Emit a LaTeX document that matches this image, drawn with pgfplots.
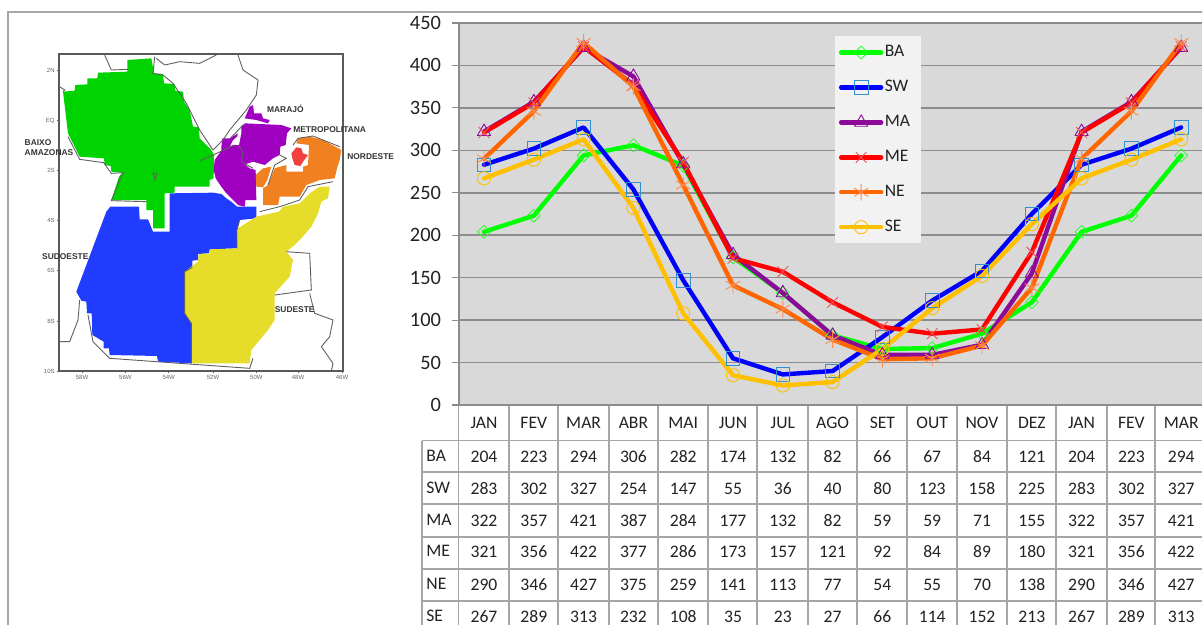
\documentclass[border=0pt]{standalone}
\usepackage{fontspec}
\setmainfont{Carlito}
\newfontfamily\mapfont{Liberation Sans}
\usepackage{pgfplots}
\usepackage{pgfplotstable}
\pgfplotsset{compat=1.18}

\definecolor{gridc}{HTML}{8C8C8C}
\definecolor{cellc}{HTML}{A6A6A6}
\definecolor{plotbg}{HTML}{D9D9D9}
\definecolor{txtc}{HTML}{222222}
\definecolor{cBA}{HTML}{00FF00}
\definecolor{cSW}{HTML}{0000FF}
\definecolor{mSW}{HTML}{2F8FD0}
\definecolor{cMA}{HTML}{8B0A9A}
\definecolor{cME}{HTML}{FF0000}
\definecolor{mME}{HTML}{F0555A}
\definecolor{cNE}{HTML}{FF6600}
\definecolor{mNE}{HTML}{FF8A4A}
\definecolor{cSE}{HTML}{FFC000}
\definecolor{mapgreen}{HTML}{00D400}
\definecolor{mapblue}{HTML}{1F3CFF}
\definecolor{mappurple}{HTML}{A000C0}
\definecolor{maporange}{HTML}{F08020}
\definecolor{mapyellow}{HTML}{E6DC2A}
\definecolor{mapred}{HTML}{F04040}
\definecolor{mapline}{HTML}{606060}

\newcommand{\cellfont}{\fontsize{8.8}{10}\selectfont}

\pgfplotstableread{
idx BA SW MA ME NE SE
0 204 283 322 321 290 267
1 223 302 357 356 346 289
2 294 327 421 422 427 313
3 306 254 387 377 375 232
4 282 147 284 286 259 108
5 174 55 177 173 141 35
6 132 36 132 157 113 23
7 82 40 82 121 77 27
8 66 80 59 92 54 66
9 67 123 59 84 55 114
10 84 158 71 89 70 152
11 121 225 155 180 138 213
12 204 283 322 321 290 267
13 223 302 357 356 346 289
14 294 327 421 422 427 313
}\monthly

% one row of the table under the chart, in page pixels
\newcommand{\cellrow}[3]{%
  \addplot[draw=none, mark=none, forget plot, nodes near coords, point meta=explicit symbolic,
    every node near coord/.append style={anchor=center, inner sep=0pt, text=txtc, font=\cellfont}]
    table[x expr=484+49.8*\thisrow{idx}, y expr=#2, meta=#1] {\monthly};
  \node[anchor=west, inner sep=0pt, text=txtc, font=\cellfont] at (axis cs:426,#3) {#1};
}
\newcommand{\region}[2]{\addplot[fill=#1, draw=none, forget plot] coordinates {#2} -- cycle;}
\newcommand{\border}[1]{\addplot[draw=mapline, line width=0.45pt, mark=none, forget plot] coordinates {#1};}
\newcommand{\maplabel}[2]{\node[font=\mapfont\bfseries\fontsize{4.2}{5.2}\selectfont, text=black!80, align=left, inner sep=0pt] at (axis cs:#1) {#2};}

\begin{document}
\begin{tikzpicture}
\path[use as bounding box] (0,0) rectangle (601pt,312.5pt);

% page frame and table grid, in pixels of the page
\begin{axis}[
  at={(0,0)}, anchor=south west, scale only axis, width=601pt, height=312.5pt,
  hide axis, xmin=0, xmax=1202, ymin=0, ymax=625, y dir=reverse, unbounded coords=jump
]
\addplot[draw=cellc, line width=0.6pt, forget plot] coordinates {(8,625) (8,12) (1202,12)};
\addplot[draw=cellc, line width=0.75pt, forget plot] coordinates {
  (422,440.5) (1202,440.5) (nan,nan)
  (422,472) (1202,472) (nan,nan)
  (422,504) (1202,504) (nan,nan)
  (422,537) (1202,537) (nan,nan)
  (422,569) (1202,569) (nan,nan)
  (422,601) (1202,601) (nan,nan)
  (422,440.5) (422,625) (nan,nan)
  (458.5,405) (458.5,625) (nan,nan)
  (509,405) (509,625) (nan,nan)
  (558,405) (558,625) (nan,nan)
  (609,405) (609,625) (nan,nan)
  (658,405) (658,625) (nan,nan)
  (708,405) (708,625) (nan,nan)
  (757,405) (757,625) (nan,nan)
  (808,405) (808,625) (nan,nan)
  (857,405) (857,625) (nan,nan)
  (907,405) (907,625) (nan,nan)
  (957,405) (957,625) (nan,nan)
  (1007,405) (1007,625) (nan,nan)
  (1056,405) (1056,625) (nan,nan)
  (1107,405) (1107,625) (nan,nan)
  (1155,405) (1155,625)
};
\cellrow{BA}{457}{456}
\cellrow{SW}{489}{488}
\cellrow{MA}{521}{520}
\cellrow{ME}{552}{551}
\cellrow{NE}{585}{584}
\cellrow{SE}{617}{616}
\end{axis}

% rainfall chart
\begin{axis}[
  at={(229.5pt,110pt)}, anchor=south west, scale only axis, width=371.5pt, height=191pt,
  xmin=-0.502, xmax=14.418, ymin=0, ymax=450,
  axis x line*=bottom, axis y line*=left,
  axis line style={-, draw=gridc, line width=0.75pt},
  axis background/.style={fill=plotbg},
  xtick={0,...,14},
  xticklabels={JAN,FEV,MAR,ABR,MAI,JUN,JUL,AGO,SET,OUT,NOV,DEZ,JAN,FEV,MAR},
  x tick style={draw=none},
  x tick label style={font=\cellfont, text=txtc, anchor=center, yshift=-5.5pt},
  ytick={0,50,...,450},
  y tick style={draw=gridc, line width=0.6pt},
  tick align=outside, major tick length=3.5pt,
  y tick label style={font=\fontsize{10.2}{11}\selectfont, text=txtc, xshift=-2pt, /pgf/number format/assume math mode=true},
  ymajorgrids, grid style={draw=gridc, line width=0.75pt},
  every axis plot/.append style={line width=2.2pt, line cap=round, line join=round},
  legend cell align=left,
  legend image code/.code={\draw[mark repeat=2, mark phase=2, #1] plot coordinates {(0pt,0pt) (10pt,0pt) (20pt,0pt)};},
  legend style={at={(0.506,0.966)}, anchor=north west, draw=none, fill=black!5,
    font=\cellfont, text=txtc, inner xsep=1.8pt, inner ysep=2.5pt, row sep=6.3pt,
    nodes={inner xsep=0.7pt},
    /tikz/every even column/.append style={column sep=0pt}}
]
\addplot[cBA, mark=square, mark size=2.3pt, mark options={solid, rotate=45, draw=cBA!85!white, line width=0.4pt}]
  table[x=idx, y=BA] {\monthly};
\addplot[cSW, mark=square, mark size=3.4pt, mark options={solid, draw=mSW, line width=0.45pt}]
  table[x=idx, y=SW] {\monthly};
\addplot[cMA, mark=triangle, mark size=3.8pt, mark options={solid, draw=cMA, line width=0.45pt}]
  table[x=idx, y=MA] {\monthly};
\addplot[cME, mark=x, mark size=3.7pt, mark options={solid, draw=mME, line width=0.45pt}]
  table[x=idx, y=ME] {\monthly};
\addplot[cNE, mark=asterisk, mark size=4pt, mark options={solid, draw=mNE, line width=0.45pt}]
  table[x=idx, y=NE] {\monthly};
\addplot[cSE, mark=o, mark size=3.3pt, mark options={solid, draw=cSE, line width=0.45pt}]
  table[x=idx, y=SE] {\monthly};
\legend{BA,SW\hspace*{4pt},MA,ME,NE,SE}
\end{axis}

% map of the regions, coordinates in 3x pixels of the reference crop
\begin{axis}[
  at={(29.5pt,127pt)}, anchor=south west, scale only axis, width=142pt, height=158.33pt,
  xmin=178, xmax=1030, ymin=73, ymax=1023, y dir=reverse, clip=false,
  axis line style={draw=black!65, line width=0.9pt},
  xtick={247,377,507,640,770,895,1027},
  xticklabels={58W,56W,54W,52W,50W,48W,46W},
  ytick={120,272,422,572,722,873,1023},
  yticklabels={2N,EQ,2S,4S,6S,8S,10S},
  xtick pos=lower, ytick pos=left, tick align=outside, major tick length=1pt,
  tick style={draw=black!60, line width=0.3pt},
  tick label style={font=\mapfont\fontsize{3}{3.5}\selectfont, text=black!60, inner sep=1pt}
]
\region{mapgreen}{(383,90) (455,85) (463,130) (490,132) (493,160) (525,162) (527,182) (550,185) (553,215) (570,240) (580,290) (597,292) (600,325) (635,360) (643,375) (642,445) (630,450) (630,470) (525,470) (525,488) (495,490) (495,595) (460,595) (460,540) (440,540) (440,510) (335,510) (358,440) (368,428) (335,425) (333,408) (315,405) (313,385) (240,380) (205,310) (190,185) (225,182) (227,165) (263,163) (263,145) (293,145) (295,128) (383,125)}
\region{mapblue}{(510,490) (640,488) (665,492) (680,505) (695,515) (712,530) (770,530) (770,565) (720,570) (712,600) (712,655) (630,658) (628,670) (595,672) (595,690) (578,692) (578,712) (555,725) (555,850) (575,880) (575,1000) (475,995) (472,978) (330,975) (328,955) (312,955) (312,935) (278,915) (276,850) (262,850) (260,815) (245,812) (230,785) (320,545) (332,530) (418,530) (420,568) (445,568) (460,605) (510,605)}
\region{mapyellow}{(990,470) (985,505) (965,515) (955,550) (935,590) (905,625) (885,645) (860,665) (880,690) (870,740) (825,790) (825,870) (805,900) (755,960) (750,1000) (575,1000) (575,880) (555,850) (555,725) (595,695) (597,672) (630,670) (632,658) (712,655) (715,595) (770,560) (838,545) (850,530) (900,520) (930,490) (960,470)}
\region{mappurple}{(645,390) (665,362) (700,345) (720,345) (732,400) (750,415) (768,420) (770,510) (737,510) (735,530) (715,525) (680,490) (665,470) (648,445) (642,420)}
\region{mappurple}{(725,290) (735,280) (845,285) (875,295) (862,310) (858,345) (842,350) (840,375) (820,385) (795,405) (760,395) (730,405) (725,380) (718,345) (725,310)}
\region{mappurple}{(665,350) (668,325) (690,325) (715,310) (712,320) (700,330) (690,350) (665,365)}
\region{mappurple}{(735,265) (750,230) (760,225) (763,250) (785,250) (790,265) (810,270) (805,280) (770,270)}
\region{maporange}{(790,475) (805,465) (825,415) (860,405) (860,425) (910,425) (910,410) (925,405) (928,345) (890,340) (895,325) (930,320) (970,330) (1025,360) (1020,390) (1012,415) (1005,445) (960,450) (920,465) (900,500) (840,500) (835,525) (790,525)}
\region{maporange}{(768,435) (790,415) (815,410) (803,450) (790,472) (770,470)}
\region{mapred}{(875,370) (890,352) (905,355) (910,370) (925,375) (910,395) (902,408) (885,405) (878,385)}
\border{(315,75) (335,120) (385,118)}
\border{(470,85) (495,105) (540,95) (600,100) (650,75)}
\border{(715,75) (730,120) (775,150) (770,195) (740,240) (690,300) (670,330) (640,360) (600,300) (560,220) (520,160) (490,135) (460,130) (465,80)}
\border{(692,325) (730,285)}
\border{(180,170) (195,180) (190,185)}
\border{(240,810) (235,870) (210,935) (180,935)}
\border{(265,855) (280,935) (330,985) (750,1015) (760,985)}
\border{(860,665) (930,670) (935,780) (825,795)}
\border{(930,790) (945,850) (1000,870) (990,920) (965,950) (1000,1000) (995,1023)}
\border{(205,320) (240,388) (312,398) (335,430) (370,428) (335,512) (440,515)}
\border{(705,345) (640,375) (600,392)}
\border{(720,570) (712,600) (712,655)}
\border{(578,712) (555,725) (555,850) (575,880) (575,1000)}
\border{(460,428) (472,432) (466,450) (460,428)}
\border{(780,545) (840,530) (900,510) (925,470) (1000,455)}
\border{(840,375) (860,385) (825,405) (805,465)}
\border{(880,345) (895,325) (940,318) (1020,350)}
\border{(718,345) (730,370) (725,395) (760,415)}
\maplabel{857,237}{MARAJÓ}
\maplabel{990,298}{METROPOLITANA}
\maplabel{1113,379}{NORDESTE}
\maplabel{148,352}{BAIXO\\AMAZONAS}
\maplabel{197,680}{SUDOESTE}
\maplabel{885,838}{SUDESTE}
\end{axis}
\end{tikzpicture}
\end{document}
